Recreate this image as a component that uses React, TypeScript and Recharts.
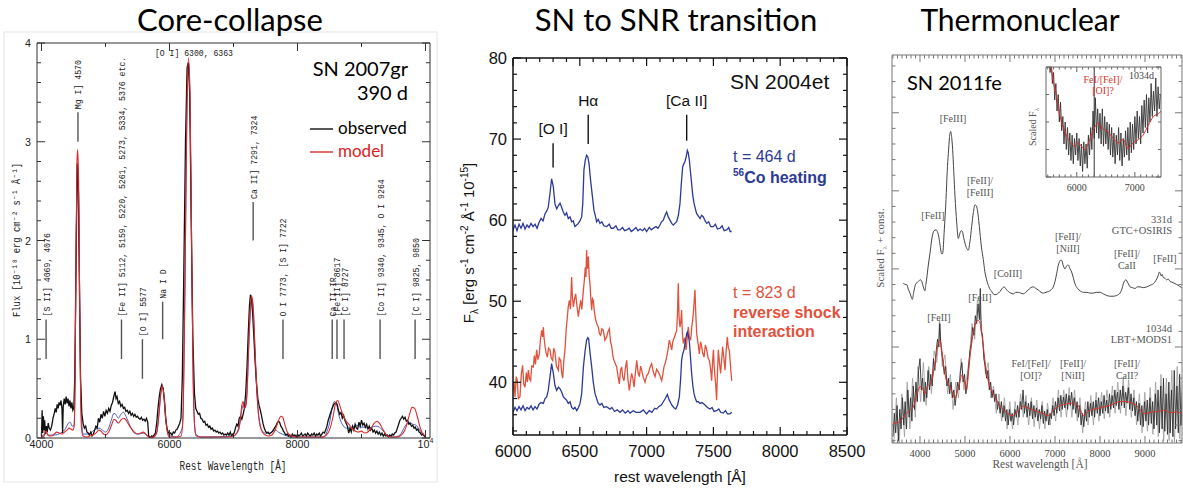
import React from "react";
import { LineChart, Line, XAxis, YAxis, ReferenceLine } from "recharts";

type Pt = [number, number];
const rows = (pts: Pt[]) => pts.map(([x, y]) => ({ x, y }));
const range = (a: number, b: number, step: number) => {
  const out: number[] = [];
  for (let i = 0; a + i * step <= b + 1e-9; i++) out.push(+(a + i * step).toFixed(4));
  return out;
};

const SANS = "'Liberation Sans', Arial, sans-serif";
const MONO = "'Liberation Mono', 'DejaVu Sans Mono', monospace";
const SERIF = "'Liberation Serif', serif";
const TITLE = "Lato, 'Open Sans', sans-serif";

// ---------- Core-collapse: SN 2007gr at 390 d ----------
const ccObserved: Pt[] = [
  [4000, 0.02], [4010, 0.28], [4020, 0.05], [4030, 0.22], [4040, 0.08], [4050, 0.18], [4060, 0.04], [4075, 0.12],
  [4090, 0.06], [4105, 0.15], [4120, 0.1], [4140, 0.08], [4160, 0.12], [4180, 0.2], [4200, 0.25], [4215, 0.3],
  [4230, 0.26], [4245, 0.34], [4260, 0.3], [4275, 0.36], [4290, 0.33], [4305, 0.38], [4320, 0.3], [4330, 0.05],
  [4340, 0.32], [4355, 0.4], [4370, 0.34], [4385, 0.42], [4400, 0.35], [4415, 0.4], [4430, 0.32], [4445, 0.38],
  [4460, 0.3], [4475, 0.36], [4490, 0.28], [4505, 0.3], [4520, 0.6], [4540, 1.8], [4560, 2.78], [4575, 2.6],
  [4590, 1.7], [4610, 0.6], [4630, 0.25], [4650, 0.15], [4670, 0.1], [4690, 0.12], [4710, 0.06], [4730, 0.05],
  [4750, 0.03], [4770, 0.06], [4790, 0.02], [4810, 0.04], [4830, 0.08], [4850, 0.12], [4870, 0.1], [4890, 0.2],
  [4910, 0.16], [4930, 0.24], [4950, 0.2], [4970, 0.27], [4990, 0.22], [5010, 0.28], [5030, 0.25], [5050, 0.3],
  [5070, 0.27], [5090, 0.33], [5110, 0.36], [5130, 0.42], [5150, 0.47], [5165, 0.4], [5180, 0.42], [5200, 0.35],
  [5220, 0.37], [5240, 0.32], [5260, 0.34], [5280, 0.3], [5300, 0.31], [5320, 0.27], [5340, 0.28], [5360, 0.25],
  [5380, 0.27], [5400, 0.23], [5420, 0.25], [5440, 0.22], [5460, 0.24], [5480, 0.21], [5500, 0.22], [5520, 0.2],
  [5540, 0.19], [5560, 0.21], [5580, 0.18], [5600, 0.19], [5620, 0.17], [5640, 0.2], [5660, 0.16], [5675, 0.02],
  [5700, 0.0], [5720, 0.02], [5740, 0.01], [5760, 0.03], [5780, 0.05], [5800, 0.15], [5820, 0.3], [5840, 0.42],
  [5860, 0.5], [5880, 0.54], [5900, 0.5], [5920, 0.38], [5940, 0.2], [5960, 0.1], [5980, 0.06], [6000, 0.04],
  [6020, 0.05], [6040, 0.03], [6060, 0.06], [6080, 0.05], [6100, 0.08], [6120, 0.09], [6140, 0.12], [6160, 0.15],
  [6180, 0.2], [6200, 0.6], [6220, 1.5], [6250, 3.0], [6275, 3.75], [6295, 3.8], [6315, 3.5], [6340, 2.2],
  [6365, 1.0], [6390, 0.45], [6410, 0.3], [6430, 0.27], [6450, 0.24], [6470, 0.25], [6490, 0.2], [6510, 0.19],
  [6530, 0.16], [6550, 0.17], [6570, 0.13], [6590, 0.14], [6610, 0.11], [6630, 0.12], [6650, 0.09], [6670, 0.1],
  [6690, 0.07], [6710, 0.08], [6730, 0.06], [6750, 0.07], [6770, 0.05], [6790, 0.06], [6810, 0.04], [6830, 0.05],
  [6850, 0.03], [6870, 0.04], [6890, 0.03], [6910, 0.05], [6930, 0.03], [6950, 0.06], [6970, 0.02], [6990, 0.04],
  [7010, 0.05], [7030, 0.1], [7050, 0.14], [7070, 0.12], [7090, 0.2], [7110, 0.22], [7130, 0.19], [7150, 0.24],
  [7170, 0.3], [7190, 0.45], [7210, 0.7], [7230, 1.05], [7250, 1.35], [7265, 1.45], [7280, 1.42], [7300, 1.25],
  [7320, 1.0], [7340, 0.75], [7360, 0.55], [7380, 0.4], [7400, 0.33], [7420, 0.28], [7440, 0.22], [7460, 0.15],
  [7480, 0.1], [7500, 0.07], [7520, 0.05], [7540, 0.06], [7560, 0.04], [7580, 0.05], [7600, 0.06], [7620, 0.08],
  [7640, 0.1], [7660, 0.12], [7680, 0.15], [7700, 0.17], [7720, 0.16], [7740, 0.12], [7760, 0.1], [7780, 0.07],
  [7800, 0.05], [7820, 0.03], [7840, 0.04], [7860, 0.02], [7880, 0.03], [7900, 0.01], [7920, 0.04], [7940, 0.02],
  [7960, 0.03], [7980, 0.01], [8000, 0.04], [8020, 0.02], [8040, 0.03], [8060, 0.05], [8080, 0.02], [8100, 0.03],
  [8120, 0.04], [8140, 0.02], [8160, 0.05], [8180, 0.03], [8200, 0.02], [8220, 0.04], [8240, 0.03], [8260, 0.05],
  [8280, 0.02], [8300, 0.04], [8320, 0.03], [8340, 0.05], [8360, 0.02], [8380, 0.04], [8400, 0.06], [8420, 0.05],
  [8440, 0.08], [8460, 0.12], [8480, 0.18], [8500, 0.22], [8520, 0.26], [8540, 0.3], [8560, 0.33], [8580, 0.35],
  [8600, 0.36], [8620, 0.34], [8640, 0.28], [8660, 0.24], [8680, 0.26], [8700, 0.2], [8720, 0.23], [8740, 0.18],
  [8760, 0.15], [8780, 0.12], [8800, 0.05], [8820, 0.1], [8840, 0.06], [8860, 0.12], [8880, 0.08], [8900, 0.14],
  [8920, 0.1], [8940, 0.09], [8960, 0.16], [8980, 0.12], [9000, 0.18], [9020, 0.13], [9040, 0.15], [9060, 0.11],
  [9080, 0.14], [9100, 0.09], [9120, 0.12], [9140, 0.08], [9160, 0.1], [9180, 0.06], [9200, 0.08], [9220, 0.05],
  [9240, 0.07], [9260, 0.04], [9280, 0.06], [9300, 0.03], [9320, 0.05], [9340, 0.02], [9360, 0.04], [9380, 0.02],
  [9400, 0.03], [9420, 0.01], [9440, 0.03], [9460, 0.02], [9480, 0.04], [9500, 0.03], [9520, 0.05], [9540, 0.06],
  [9560, 0.1], [9580, 0.14], [9600, 0.18], [9620, 0.2], [9640, 0.22], [9660, 0.19], [9680, 0.21], [9700, 0.17],
  [9720, 0.18], [9740, 0.14], [9760, 0.15], [9780, 0.12], [9800, 0.13], [9820, 0.1], [9840, 0.11], [9860, 0.08],
  [9880, 0.09], [9900, 0.06], [9920, 0.05], [9940, 0.03], [9960, 0.04], [9980, 0.02], [10000, 0.01],
];

const ccModel: Pt[] = [
  [4000, 0.01], [4040, 0.02], [4060, 0.06], [4075, 0.07], [4090, 0.04], [4120, 0.02], [4160, 0.02], [4200, 0.04],
  [4240, 0.06], [4280, 0.05], [4320, 0.04], [4360, 0.06], [4400, 0.08], [4430, 0.1], [4460, 0.09], [4490, 0.08],
  [4510, 0.12], [4525, 0.6], [4540, 1.9], [4555, 2.8], [4565, 2.92], [4580, 2.6], [4595, 1.5], [4610, 0.5],
  [4625, 0.1], [4650, 0.02], [4700, 0.01], [4750, 0.02], [4800, 0.03], [4850, 0.05], [4900, 0.08], [4930, 0.07],
  [4970, 0.04], [5000, 0.03], [5050, 0.06], [5100, 0.14], [5130, 0.19], [5160, 0.18], [5200, 0.15], [5240, 0.18],
  [5280, 0.2], [5310, 0.19], [5350, 0.15], [5400, 0.1], [5450, 0.06], [5500, 0.04], [5550, 0.05], [5590, 0.06],
  [5630, 0.04], [5680, 0.01], [5750, 0.01], [5800, 0.05], [5830, 0.2], [5860, 0.42], [5885, 0.53], [5910, 0.45],
  [5940, 0.2], [5970, 0.05], [6000, 0.01], [6100, 0.01], [6180, 0.02], [6210, 0.2], [6240, 1.5], [6270, 3.2],
  [6295, 3.85], [6320, 3.5], [6345, 2.0], [6370, 0.6], [6395, 0.1], [6420, 0.02], [6500, 0.01], [6700, 0.01],
  [6900, 0.01], [7000, 0.02], [7050, 0.05], [7100, 0.15], [7130, 0.33], [7150, 0.37], [7170, 0.3], [7200, 0.35],
  [7230, 0.8], [7260, 1.3], [7280, 1.44], [7300, 1.38], [7330, 1.0], [7360, 0.55], [7390, 0.25], [7420, 0.12],
  [7450, 0.06], [7500, 0.03], [7550, 0.02], [7600, 0.03], [7650, 0.08], [7700, 0.17], [7740, 0.22], [7770, 0.21],
  [7800, 0.14], [7840, 0.06], [7900, 0.02], [8000, 0.01], [8200, 0.01], [8400, 0.01], [8450, 0.03], [8500, 0.08],
  [8550, 0.2], [8600, 0.36], [8630, 0.38], [8660, 0.33], [8700, 0.25], [8750, 0.18], [8800, 0.14], [8850, 0.1],
  [8900, 0.07], [8950, 0.06], [9000, 0.07], [9050, 0.05], [9100, 0.06], [9150, 0.1], [9200, 0.15], [9240, 0.17],
  [9280, 0.15], [9330, 0.09], [9380, 0.04], [9450, 0.01], [9550, 0.01], [9650, 0.05], [9700, 0.12], [9750, 0.24],
  [9790, 0.31], [9830, 0.3], [9870, 0.22], [9910, 0.12], [9950, 0.05], [10000, 0.02],
];

const ccModelAlt: Pt[] = [
  [4000, 0.01], [4060, 0.05], [4075, 0.06], [4100, 0.03], [4200, 0.03], [4300, 0.05], [4380, 0.1], [4420, 0.15],
  [4450, 0.16], [4480, 0.12], [4510, 0.13], [4525, 0.6], [4540, 1.85], [4560, 2.78], [4580, 2.5], [4600, 1.2],
  [4620, 0.3], [4650, 0.04], [4750, 0.04], [4800, 0.07], [4850, 0.09], [4900, 0.1], [4950, 0.08], [5000, 0.06],
  [5050, 0.1], [5100, 0.2], [5130, 0.25], [5160, 0.24], [5200, 0.2], [5240, 0.24], [5280, 0.26], [5320, 0.22],
  [5360, 0.16], [5400, 0.1], [5450, 0.05], [5500, 0.04], [5600, 0.05], [5680, 0.01], [5800, 0.06], [5840, 0.28],
  [5870, 0.48], [5890, 0.52], [5920, 0.4], [5950, 0.15], [5990, 0.03], [6100, 0.01], [6200, 0.1], [6240, 1.4],
  [6270, 3.2], [6295, 3.8], [6320, 3.4], [6350, 1.6], [6380, 0.3], [6410, 0.04], [6500, 0.01], [7000, 0.02],
  [7080, 0.08], [7120, 0.25], [7150, 0.33], [7180, 0.3], [7210, 0.45], [7250, 1.1], [7285, 1.4], [7310, 1.3],
  [7340, 0.8], [7370, 0.4], [7400, 0.18], [7440, 0.08], [7500, 0.05], [7560, 0.05], [7620, 0.07], [7660, 0.08],
  [7700, 0.06], [7760, 0.04], [7800, 0.03], [7900, 0.01], [8400, 0.01], [8450, 0.05], [8500, 0.15], [8540, 0.3],
  [8575, 0.37], [8610, 0.34], [8650, 0.22], [8700, 0.14], [8760, 0.1], [8820, 0.1], [8880, 0.12], [8930, 0.13],
  [8980, 0.11], [9040, 0.11], [9100, 0.1], [9160, 0.11], [9220, 0.12], [9280, 0.11], [9340, 0.07], [9400, 0.03],
  [9500, 0.01], [9600, 0.03], [9680, 0.12], [9740, 0.16], [9800, 0.14], [9850, 0.13], [9900, 0.09], [9950, 0.04],
  [10000, 0.01],
];

const ccLines = [
  { label: "[S II] 4069, 4076", wl: 4072, y0: 0.8, y1: 1.2 },
  { label: "Mg I] 4570", wl: 4570, y0: 3.0, y1: 3.3 },
  { label: "[Fe II] 5112, 5159, 5220, 5261, 5273, 5334, 5376 etc.", wl: 5250, y0: 0.8, y1: 1.2 },
  { label: "[O I] 5577", wl: 5577, y0: 0.6, y1: 1.0 },
  { label: "Na I D", wl: 5893, y0: 1.0, y1: 1.38 },
  { label: "Ca II] 7291, 7324", wl: 7307, y0: 2.0, y1: 2.39 },
  { label: "O I 7773, [S I] 7722", wl: 7773, y0: 0.8, y1: 1.2 },
  { label: "Ca II IR", wl: 8542, y0: 0.8, y1: 1.2 },
  { label: "[Fe II] 8617", wl: 8617, y0: 0.8, y1: 1.2 },
  { label: "[C I] 8727", wl: 8727, y0: 0.8, y1: 1.2 },
  { label: "[Co II] 9340, 9345, O I 9264", wl: 9290, y0: 0.8, y1: 1.2 },
  { label: "[C I] 9825, 9850", wl: 9837, y0: 0.8, y1: 1.2 },
];
const ccXTicks = range(4000, 10000, 1000);
const ccYTicks = range(0, 4, 0.2);

// ---------- SN 2004et ----------
const et464: Pt[] = [
  [6000, 58.8], [6015, 59.4], [6030, 58.7], [6045, 59.5], [6060, 59.0], [6075, 59.6], [6090, 58.9], [6105, 59.4],
  [6120, 59.1], [6135, 59.6], [6150, 59.2], [6165, 59.5], [6180, 59.0], [6195, 59.7], [6210, 60.2], [6225, 59.9],
  [6240, 60.8], [6252, 61.1], [6264, 61.6], [6276, 63.2], [6289, 65.1], [6302, 64.1], [6314, 62.0], [6327, 61.4],
  [6340, 61.8], [6352, 62.1], [6364, 61.6], [6376, 61.0], [6389, 60.6], [6401, 60.9], [6414, 60.2], [6427, 60.4],
  [6439, 59.8], [6451, 59.9], [6464, 59.2], [6476, 59.4], [6489, 59.6], [6501, 59.9], [6514, 60.4], [6522, 62.0],
  [6531, 66.2], [6541, 67.4], [6551, 68.0], [6560, 67.8], [6569, 67.0], [6579, 65.2], [6589, 63.7], [6598, 62.4],
  [6606, 61.2], [6616, 60.6], [6626, 59.8], [6638, 60.1], [6651, 59.6], [6665, 59.8], [6680, 59.3], [6701, 59.2],
  [6720, 59.5], [6735, 59.0], [6751, 59.0], [6770, 59.3], [6785, 58.8], [6801, 58.8], [6820, 59.1], [6835, 58.7],
  [6851, 58.8], [6870, 59.0], [6885, 58.6], [6901, 58.8], [6920, 59.1], [6935, 58.7], [6951, 58.9], [6970, 58.7],
  [6985, 59.0], [7000, 58.6], [7020, 59.1], [7035, 58.8], [7050, 59.0], [7070, 59.2], [7085, 59.0], [7100, 59.4],
  [7112, 59.8], [7125, 60.0], [7138, 60.6], [7150, 61.0], [7162, 60.4], [7175, 60.0], [7188, 59.6], [7200, 59.4],
  [7212, 59.6], [7225, 59.8], [7238, 60.6], [7250, 62.1], [7260, 64.5], [7270, 66.6], [7280, 67.0], [7287, 67.2],
  [7296, 67.8], [7305, 68.6], [7312, 68.3], [7320, 67.4], [7328, 66.0], [7337, 64.5], [7346, 63.0], [7355, 62.1],
  [7365, 61.4], [7375, 60.8], [7388, 60.5], [7400, 60.2], [7412, 60.6], [7425, 60.4], [7438, 59.9], [7450, 59.6],
  [7465, 59.8], [7480, 59.2], [7500, 59.2], [7515, 59.5], [7530, 58.9], [7550, 59.0], [7565, 59.3], [7580, 58.7],
  [7599, 58.8], [7615, 59.1], [7625, 58.6], [7637, 58.6],
];

const et464Low: Pt[] = [
  [6000, 36.3], [6015, 36.9], [6030, 36.5], [6045, 37.0], [6060, 36.6], [6075, 37.1], [6090, 36.5], [6105, 36.9],
  [6120, 36.7], [6135, 37.1], [6150, 36.6], [6165, 37.0], [6180, 36.7], [6195, 37.3], [6210, 37.5], [6227, 37.4],
  [6240, 38.0], [6252, 38.2], [6264, 39.0], [6277, 40.7], [6289, 42.3], [6302, 41.1], [6314, 39.6], [6327, 39.0],
  [6340, 39.4], [6352, 39.2], [6364, 38.8], [6377, 38.2], [6389, 38.0], [6401, 37.8], [6414, 37.4], [6427, 37.6],
  [6439, 36.9], [6452, 36.7], [6464, 36.9], [6477, 36.5], [6490, 36.9], [6502, 37.4], [6514, 38.6], [6527, 41.9],
  [6539, 43.8], [6551, 45.2], [6560, 45.5], [6566, 45.4], [6577, 43.6], [6589, 41.9], [6601, 40.0], [6614, 38.6],
  [6626, 38.0], [6638, 37.4], [6651, 37.2], [6665, 37.4], [6680, 36.9], [6700, 37.0], [6726, 36.7], [6740, 36.9],
  [6760, 36.4], [6780, 36.6], [6801, 36.3], [6820, 36.6], [6840, 36.2], [6860, 36.5], [6876, 36.2], [6900, 36.5],
  [6920, 36.3], [6951, 36.3], [6975, 36.6], [7000, 36.1], [7020, 36.5], [7040, 36.3], [7060, 36.8], [7075, 36.7],
  [7090, 37.0], [7110, 37.2], [7125, 37.6], [7140, 38.0], [7155, 38.5], [7170, 37.8], [7188, 37.2], [7203, 36.9],
  [7218, 36.7], [7232, 37.2], [7245, 38.2], [7255, 40.5], [7262, 42.7], [7270, 43.5], [7280, 44.0], [7290, 45.0],
  [7300, 46.0], [7305, 46.2], [7312, 45.8], [7320, 45.0], [7328, 43.2], [7337, 41.1], [7346, 39.6], [7355, 38.6],
  [7365, 38.0], [7375, 37.6], [7388, 37.6], [7400, 37.4], [7415, 37.5], [7437, 37.2], [7455, 36.9], [7475, 36.7],
  [7490, 36.9], [7505, 36.4], [7524, 36.5], [7540, 36.7], [7555, 36.3], [7574, 36.2], [7590, 36.5], [7605, 36.1],
  [7624, 36.1], [7637, 36.3],
];

const et823: Pt[] = [
  [6000, 39.0], [6008, 40.0], [6015, 38.2], [6024, 40.7], [6032, 40.2], [6040, 38.0], [6052, 38.2], [6062, 41.0],
  [6072, 42.1], [6080, 39.8], [6090, 39.4], [6100, 41.2], [6108, 40.0], [6115, 41.5], [6124, 40.4], [6132, 40.2],
  [6140, 42.0], [6152, 41.9], [6160, 43.3], [6168, 42.2], [6177, 44.0], [6186, 42.8], [6197, 43.5], [6205, 45.2],
  [6215, 46.4], [6222, 45.6], [6227, 46.8], [6233, 45.4], [6240, 44.4], [6248, 43.6], [6257, 43.1], [6266, 44.2],
  [6277, 44.0], [6286, 43.0], [6297, 42.7], [6305, 44.2], [6314, 43.7], [6325, 42.0], [6339, 41.5], [6346, 43.0],
  [6357, 42.7], [6364, 41.2], [6372, 40.5], [6380, 42.6], [6389, 44.0], [6398, 46.5], [6407, 48.1], [6414, 49.4],
  [6422, 50.1], [6430, 49.0], [6439, 53.0], [6445, 50.4], [6452, 49.3], [6460, 50.2], [6469, 50.9], [6478, 49.5],
  [6489, 48.1], [6498, 49.2], [6507, 50.1], [6515, 49.0], [6527, 51.4], [6534, 52.6], [6541, 54.2], [6546, 53.0],
  [6551, 56.3], [6557, 54.0], [6564, 55.5], [6570, 53.2], [6576, 52.2], [6582, 50.5], [6589, 48.9], [6595, 50.3],
  [6601, 50.1], [6610, 48.6], [6619, 47.7], [6628, 47.2], [6639, 46.8], [6647, 46.0], [6656, 45.8], [6665, 46.6],
  [6676, 46.4], [6688, 45.2], [6701, 45.6], [6710, 46.2], [6721, 46.6], [6730, 45.0], [6739, 44.4], [6748, 43.2],
  [6756, 42.7], [6766, 42.3], [6776, 41.9], [6786, 40.8], [6796, 39.8], [6805, 41.5], [6813, 41.9], [6822, 40.6],
  [6831, 40.2], [6840, 41.6], [6851, 42.7], [6860, 40.4], [6871, 39.0], [6880, 40.2], [6888, 41.1], [6897, 40.5],
  [6906, 39.4], [6915, 41.0], [6926, 42.7], [6936, 41.2], [6946, 40.7], [6955, 42.0], [6963, 41.5], [6975, 40.6],
  [6988, 40.0], [7000, 40.8], [7013, 41.1], [7025, 41.8], [7038, 42.3], [7050, 41.3], [7063, 40.7], [7075, 41.6],
  [7088, 41.3], [7100, 40.8], [7113, 40.2], [7122, 41.0], [7130, 41.9], [7140, 42.4], [7150, 43.1], [7160, 44.0],
  [7170, 45.2], [7180, 44.6], [7188, 44.0], [7196, 45.0], [7205, 45.4], [7215, 45.9], [7225, 46.4], [7231, 48.5],
  [7237, 52.2], [7243, 48.0], [7250, 46.8], [7256, 47.5], [7262, 48.9], [7268, 46.0], [7275, 44.8], [7285, 45.5],
  [7295, 44.0], [7303, 45.3], [7312, 46.8], [7320, 45.6], [7330, 45.2], [7338, 46.8], [7345, 47.7], [7352, 49.0],
  [7362, 51.4], [7368, 48.5], [7375, 46.0], [7385, 44.8], [7395, 43.5], [7404, 45.0], [7412, 44.4], [7420, 43.6],
  [7430, 43.1], [7440, 44.6], [7450, 44.0], [7460, 43.0], [7470, 42.7], [7480, 41.5], [7487, 40.2], [7494, 42.5],
  [7500, 44.0], [7506, 42.0], [7512, 40.7], [7518, 39.5], [7524, 37.8], [7530, 41.0], [7537, 44.0], [7545, 42.5],
  [7554, 41.1], [7562, 42.8], [7569, 44.4], [7578, 43.0], [7587, 41.5], [7595, 43.8], [7604, 45.6], [7612, 44.2],
  [7619, 44.0], [7628, 42.0], [7637, 40.2],
];

const etLines = [
  { label: "[O I]", wl: 6300, y0: 66.5, y1: 69.5 },
  { label: "Hα", wl: 6563, y0: 69.4, y1: 73.0 },
  { label: "[Ca II]", wl: 7300, y0: 69.8, y1: 73.0 },
];
const etXTicks = range(6000, 8500, 100);
const etYTicks = range(34, 80, 2);

// ---------- SN 2011fe ----------
const fe331: Pt[] = [
  [3630, 2.82], [3670, 2.8], [3704, 2.8], [3740, 2.74], [3778, 2.69], [3805, 2.64], [3830, 2.61], [3860, 2.7],
  [3889, 2.78], [3925, 2.82], [3963, 2.84], [4015, 2.86], [4045, 2.83], [4074, 2.77], [4111, 2.72], [4130, 2.8],
  [4148, 2.87], [4185, 3.05], [4222, 3.2], [4259, 3.37], [4290, 3.46], [4311, 3.49], [4356, 3.5], [4385, 3.48],
  [4407, 3.44], [4435, 3.35], [4459, 3.25], [4485, 3.19], [4504, 3.2], [4540, 3.5], [4578, 3.89], [4605, 4.25],
  [4630, 4.48], [4655, 4.68], [4682, 4.76], [4705, 4.68], [4726, 4.53], [4750, 4.25], [4778, 3.93], [4815, 3.6],
  [4852, 3.39], [4870, 3.42], [4889, 3.46], [4915, 3.49], [4941, 3.48], [4970, 3.4], [5000, 3.33], [5040, 3.26],
  [5074, 3.24], [5110, 3.35], [5148, 3.54], [5185, 3.72], [5222, 3.82], [5250, 3.81], [5274, 3.76], [5305, 3.62],
  [5333, 3.46], [5365, 3.28], [5407, 3.12], [5440, 2.97], [5481, 2.86], [5530, 2.77], [5593, 2.71], [5630, 2.68],
  [5667, 2.67], [5720, 2.68], [5778, 2.71], [5825, 2.75], [5867, 2.77], [5915, 2.74], [5963, 2.71], [6020, 2.69],
  [6074, 2.68], [6130, 2.7], [6185, 2.7], [6240, 2.69], [6296, 2.68], [6350, 2.7], [6407, 2.73], [6460, 2.76],
  [6519, 2.77], [6575, 2.75], [6630, 2.73], [6690, 2.7], [6741, 2.69], [6800, 2.7], [6852, 2.71], [6910, 2.73],
  [6963, 2.77], [7000, 2.84], [7037, 2.94], [7070, 3.04], [7096, 3.09], [7122, 3.11], [7148, 3.11], [7185, 3.04],
  [7222, 3.0], [7260, 3.04], [7296, 3.05], [7335, 3.0], [7370, 2.96], [7410, 2.88], [7444, 2.81], [7500, 2.75],
  [7556, 2.72], [7630, 2.7], [7704, 2.7], [7780, 2.69], [7852, 2.69], [7925, 2.7], [8000, 2.7], [8075, 2.68],
  [8148, 2.66], [8220, 2.65], [8296, 2.65], [8370, 2.66], [8444, 2.69], [8485, 2.74], [8519, 2.81], [8550, 2.85],
  [8578, 2.86], [8620, 2.82], [8667, 2.77], [8720, 2.76], [8778, 2.75], [8830, 2.77], [8889, 2.77], [8960, 2.76],
  [9037, 2.77], [9110, 2.79], [9185, 2.81], [9240, 2.85], [9296, 2.92], [9320, 2.96], [9333, 2.95], [9360, 2.91],
  [9380, 2.93], [9407, 2.89], [9440, 2.88], [9480, 2.86], [9515, 2.87], [9556, 2.84], [9600, 2.83], [9640, 2.82],
  [9704, 2.8], [9760, 2.78], [9815, 2.76],
];

const fe1034: Pt[] = [
  [3400, 0.85], [3430, 1.15], [3460, 0.9], [3490, 1.25], [3520, 0.8], [3550, 1.2], [3580, 0.95], [3610, 1.35],
  [3640, 1.0], [3670, 1.3], [3700, 0.95], [3730, 1.45], [3760, 1.1], [3790, 1.35], [3820, 1.05], [3850, 1.5],
  [3880, 1.2], [3910, 1.55], [3940, 1.3], [3970, 1.7], [4000, 1.85], [4030, 1.45], [4060, 1.6], [4090, 1.3],
  [4120, 1.55], [4150, 1.35], [4180, 1.7], [4210, 1.45], [4240, 1.65], [4270, 1.5], [4300, 1.85], [4330, 1.7],
  [4360, 1.95], [4390, 2.1], [4420, 2.0], [4440, 2.3], [4460, 2.05], [4480, 1.95], [4510, 1.8], [4540, 1.65],
  [4570, 1.75], [4600, 1.5], [4630, 1.6], [4660, 1.4], [4690, 1.55], [4720, 1.35], [4750, 1.45], [4780, 1.25],
  [4810, 1.4], [4840, 1.55], [4870, 1.45], [4900, 1.7], [4930, 1.8], [4960, 1.55], [4990, 1.65], [5020, 1.4],
  [5050, 1.55], [5080, 1.75], [5110, 1.95], [5140, 2.05], [5170, 2.25], [5200, 2.15], [5230, 2.4], [5260, 2.3],
  [5290, 2.55], [5320, 2.35], [5340, 2.75], [5360, 2.2], [5390, 2.15], [5420, 1.85], [5450, 1.75], [5480, 1.6],
  [5510, 1.7], [5540, 1.45], [5570, 1.55], [5600, 1.35], [5630, 1.45], [5660, 1.3], [5690, 1.4], [5720, 1.2],
  [5750, 1.3], [5780, 1.15], [5810, 1.3], [5840, 1.1], [5870, 1.25], [5900, 1.05], [5930, 1.2], [5960, 1.0],
  [5990, 1.2], [6020, 1.05], [6050, 1.15], [6080, 1.0], [6110, 1.2], [6140, 1.1], [6170, 1.25], [6200, 1.1],
  [6230, 1.3], [6260, 1.2], [6290, 1.45], [6320, 1.15], [6350, 1.3], [6380, 1.1], [6410, 1.28], [6440, 1.12],
  [6470, 1.3], [6500, 1.08], [6530, 1.25], [6560, 1.1], [6590, 1.22], [6620, 1.05], [6650, 1.2], [6680, 1.08],
  [6710, 1.25], [6740, 1.02], [6770, 1.18], [6800, 1.05], [6830, 1.2], [6860, 1.0], [6890, 1.15], [6920, 1.08],
  [6950, 1.25], [6980, 1.12], [7010, 1.3], [7040, 1.15], [7070, 1.35], [7100, 1.18], [7130, 1.38], [7160, 1.2],
  [7190, 1.36], [7220, 1.22], [7250, 1.4], [7280, 1.2], [7310, 1.38], [7340, 1.25], [7370, 1.42], [7400, 1.2],
  [7430, 1.35], [7460, 1.15], [7490, 1.3], [7520, 1.1], [7550, 1.25], [7580, 1.0], [7610, 1.15], [7640, 0.98],
  [7670, 1.2], [7700, 1.05], [7730, 1.3], [7760, 1.1], [7790, 1.28], [7820, 1.12], [7850, 1.3], [7880, 1.1],
  [7910, 1.32], [7940, 1.15], [7970, 1.35], [8000, 1.12], [8030, 1.3], [8060, 1.15], [8090, 1.38], [8120, 1.18],
  [8150, 1.32], [8180, 1.15], [8210, 1.4], [8240, 1.2], [8270, 1.38], [8300, 1.22], [8330, 1.45], [8360, 1.25],
  [8390, 1.42], [8420, 1.2], [8450, 1.45], [8480, 1.25], [8510, 1.5], [8540, 1.22], [8570, 1.42], [8600, 1.28],
  [8630, 1.48], [8660, 1.2], [8690, 1.4], [8720, 1.18], [8750, 1.35], [8780, 1.12], [8810, 1.3], [8840, 1.05],
  [8870, 1.28], [8900, 1.0], [8930, 1.25], [8960, 0.98], [8990, 1.3], [9020, 1.05], [9050, 1.32], [9080, 1.0],
  [9110, 1.35], [9140, 1.02], [9170, 1.3], [9200, 0.95], [9230, 1.4], [9260, 1.0], [9290, 1.45], [9320, 0.9],
  [9350, 1.5], [9380, 0.95], [9410, 1.6], [9440, 0.92], [9470, 1.4], [9500, 0.88], [9530, 1.55], [9560, 0.9],
  [9590, 1.45], [9620, 0.85], [9650, 1.7], [9680, 0.95], [9710, 1.5], [9740, 0.9], [9770, 1.65], [9800, 1.0],
  [9830, 1.4],
];

// lighter, wider-scatter trace drawn under the 1034d spectrum
const fe1034Raw: Pt[] = [
  [3415, 0.7], [3475, 1.35], [3535, 0.75], [3595, 1.4], [3655, 0.85], [3715, 1.55], [3775, 0.95], [3835, 1.6],
  [3895, 1.1], [3955, 1.75], [4015, 1.3], [4075, 1.8], [4135, 1.25], [4195, 1.75], [4255, 1.4], [4315, 1.95],
  [4375, 1.8], [4435, 2.35], [4495, 1.75], [4555, 1.9], [4615, 1.4], [4675, 1.65], [4735, 1.2], [4795, 1.55],
  [4855, 1.35], [4915, 1.85], [4975, 1.45], [5035, 1.6], [5095, 1.85], [5155, 2.3], [5215, 2.1], [5275, 2.6],
  [5335, 2.5], [5395, 2.05], [5455, 1.65], [5515, 1.8], [5575, 1.35], [5635, 1.5], [5695, 1.15], [5755, 1.4],
  [5815, 1.05], [5875, 1.35], [5935, 0.95], [5995, 1.3], [6055, 0.95], [6115, 1.3], [6175, 1.0], [6235, 1.4],
  [6295, 1.1], [6355, 1.38], [6415, 1.0], [6475, 1.35], [6535, 0.98], [6595, 1.32], [6655, 0.95], [6715, 1.3],
  [6775, 0.95], [6835, 1.28], [6895, 1.0], [6955, 1.35], [7015, 1.05], [7075, 1.45], [7135, 1.1], [7195, 1.45],
  [7255, 1.1], [7315, 1.48], [7375, 1.1], [7435, 1.45], [7495, 1.05], [7555, 1.35], [7615, 0.9], [7675, 1.3],
  [7735, 1.0], [7795, 1.38], [7855, 1.0], [7915, 1.42], [7975, 1.05], [8035, 1.42], [8095, 1.08], [8155, 1.45],
  [8215, 1.1], [8275, 1.5], [8335, 1.15], [8395, 1.55], [8455, 1.15], [8515, 1.6], [8575, 1.12], [8635, 1.58],
  [8695, 1.1], [8755, 1.45], [8815, 1.0], [8875, 1.4], [8935, 0.9], [8995, 1.42], [9055, 0.92], [9115, 1.48],
  [9175, 0.88], [9235, 1.55], [9295, 0.85], [9355, 1.65], [9415, 0.8], [9475, 1.6], [9535, 0.8], [9595, 1.7],
  [9655, 0.78], [9715, 1.75], [9775, 0.82], [9830, 1.6],
];

const fe1034Smooth: Pt[] = [
  [3400, 1.02], [3480, 1.03], [3555, 1.04], [3630, 1.1], [3703, 1.15], [3780, 1.19], [3852, 1.23], [3910, 1.35],
  [3963, 1.45], [4000, 1.49], [4037, 1.49], [4075, 1.44], [4111, 1.4], [4150, 1.47], [4185, 1.51], [4222, 1.53],
  [4259, 1.55], [4296, 1.66], [4333, 1.79], [4370, 1.93], [4407, 2.05], [4444, 2.09], [4475, 2.0], [4503, 1.87],
  [4540, 1.72], [4577, 1.59], [4620, 1.53], [4666, 1.49], [4720, 1.41], [4777, 1.34], [4815, 1.4], [4851, 1.47],
  [4890, 1.56], [4925, 1.64], [4950, 1.63], [4977, 1.58], [5005, 1.5], [5037, 1.45], [5075, 1.65], [5111, 1.87],
  [5150, 2.05], [5185, 2.2], [5222, 2.28], [5259, 2.33], [5296, 2.34], [5333, 2.31], [5370, 2.18], [5407, 2.01],
  [5444, 1.82], [5481, 1.66], [5518, 1.56], [5555, 1.49], [5610, 1.42], [5666, 1.36], [5720, 1.3], [5777, 1.25],
  [5850, 1.2], [5925, 1.16], [6000, 1.13], [6074, 1.12], [6130, 1.15], [6185, 1.19], [6240, 1.22], [6296, 1.24],
  [6370, 1.23], [6444, 1.21], [6518, 1.19], [6592, 1.18], [6666, 1.16], [6740, 1.15], [6795, 1.13], [6851, 1.12],
  [6907, 1.15], [6963, 1.19], [7037, 1.22], [7111, 1.25], [7185, 1.26], [7259, 1.27], [7333, 1.28], [7407, 1.28],
  [7460, 1.27], [7518, 1.25], [7575, 1.18], [7629, 1.12], [7700, 1.15], [7777, 1.19], [7850, 1.2], [7925, 1.21],
  [8000, 1.22], [8073, 1.23], [8150, 1.24], [8222, 1.25], [8296, 1.27], [8370, 1.29], [8444, 1.3], [8518, 1.3],
  [8592, 1.3], [8666, 1.29], [8740, 1.27], [8814, 1.25], [8888, 1.2], [8962, 1.15], [9036, 1.15], [9110, 1.16],
  [9185, 1.17], [9259, 1.17], [9333, 1.18], [9407, 1.19], [9480, 1.18], [9555, 1.16], [9630, 1.16], [9703, 1.17],
  [9770, 1.16], [9836, 1.15],
];

const insetObs: Pt[] = [
  [5480, 1.2], [5500, 1.1], [5520, 1.15], [5540, 0.95], [5560, 1.05], [5580, 0.85], [5600, 0.95], [5620, 0.7],
  [5640, 0.85], [5660, 0.6], [5680, 0.75], [5700, 0.5], [5720, 0.68], [5740, 0.42], [5760, 0.55], [5780, 0.3],
  [5800, 0.5], [5820, 0.25], [5840, 0.45], [5860, 0.2], [5880, 0.4], [5900, 0.15], [5920, 0.38], [5940, 0.12],
  [5960, 0.35], [5980, 0.2], [6000, 0.4], [6020, 0.15], [6040, 0.35], [6060, 0.1], [6080, 0.3], [6100, 0.05],
  [6120, 0.32], [6140, 0.12], [6160, 0.3], [6180, 0.08], [6200, 0.38], [6220, 0.2], [6240, 0.45], [6260, 0.25],
  [6280, 0.6], [6300, 0.35], [6320, 0.72], [6340, 0.4], [6360, 0.62], [6380, 0.35], [6400, 0.58], [6420, 0.3],
  [6440, 0.62], [6460, 0.28], [6480, 0.55], [6500, 0.3], [6520, 0.5], [6540, 0.25], [6560, 0.48], [6580, 0.2],
  [6600, 0.45], [6620, 0.18], [6640, 0.4], [6660, 0.12], [6680, 0.38], [6700, 0.2], [6720, 0.45], [6740, 0.15],
  [6760, 0.4], [6780, 0.1], [6800, 0.35], [6820, 0.18], [6840, 0.42], [6860, 0.2], [6880, 0.45], [6900, 0.15],
  [6920, 0.5], [6940, 0.22], [6960, 0.48], [6980, 0.25], [7000, 0.55], [7020, 0.3], [7040, 0.6], [7060, 0.35],
  [7080, 0.55], [7100, 0.3], [7120, 0.65], [7140, 0.4], [7160, 0.7], [7180, 0.45], [7200, 0.75], [7220, 0.4],
  [7240, 0.72], [7260, 0.5], [7280, 0.85], [7300, 0.55], [7320, 0.78], [7340, 0.6], [7360, 0.9], [7380, 0.55],
  [7400, 0.82], [7420, 0.62], [7440, 0.75],
];

const insetSmooth: Pt[] = [
  [5480, 1.25], [5520, 1.12], [5560, 1.0], [5600, 0.86], [5650, 0.74], [5710, 0.56], [5790, 0.42], [5880, 0.32],
  [5970, 0.28], [6020, 0.31], [6080, 0.28], [6140, 0.25], [6200, 0.31], [6280, 0.42], [6370, 0.49], [6450, 0.44],
  [6540, 0.41], [6630, 0.35], [6710, 0.31], [6800, 0.34], [6880, 0.26], [6970, 0.31], [7060, 0.34], [7140, 0.38],
  [7230, 0.47], [7320, 0.55], [7420, 0.58], [7450, 0.6],
];

const feXTicks = range(3400, 9800, 100);
const feYTicks = range(0.8, 5.6, 0.2);
const insetXTicks = range(5500, 7400, 100);
const insetYTicks = range(0, 1, 0.25);

// ---------- tick + frame helpers ----------
type Side = "bottom" | "top" | "left" | "right";
type TickCfg = {
  every: number;
  major: number;
  minor: number;
  color: string;
  lw?: number;
  label?: (v: number) => React.ReactNode;
  dx?: number;
  dy?: number;
  anchor?: "start" | "middle" | "end";
  font?: { family: string; size: number; fill: string };
};

const makeTick = (side: Side, c: TickCfg, withLabel: boolean) => (p: any) => {
  const x: number = p.x;
  const y: number = p.y;
  const v: number = p.payload?.value;
  const r = v / c.every;
  const isMajor = Math.abs(r - Math.round(r)) < 1e-6;
  const len = isMajor ? c.major : c.minor;
  const d =
    side === "bottom" ? [0, -len] : side === "top" ? [0, len] : side === "left" ? [len, 0] : [-len, 0];
  return (
    <g>
      <line x1={x} y1={y} x2={x + d[0]} y2={y + d[1]} stroke={c.color} strokeWidth={c.lw ?? 1} />
      {withLabel && isMajor && c.label && c.font ? (
        <text
          x={x + (c.dx ?? 0)}
          y={y + (c.dy ?? 0)}
          textAnchor={c.anchor ?? "middle"}
          fontFamily={c.font.family}
          fontSize={c.font.size}
          fill={c.font.fill}
        >
          {c.label(v)}
        </text>
      ) : null}
    </g>
  );
};

// axes are 1px thick (CartesianAxis skips drawing when its size is 0)
function frame(o: {
  xDomain: [number, number];
  yDomain: [number, number];
  xTicks: number[];
  yTicks: number[];
  x: TickCfg;
  y: TickCfg;
  color: string;
  lw: number;
}) {
  const base = {
    type: "number" as const,
    allowDataOverflow: true,
    tickLine: false,
    interval: 0 as const,
    tickSize: 0,
    tickMargin: 0,
    axisLine: { stroke: o.color, strokeWidth: o.lw },
  };
  return [
    <XAxis key="xb" dataKey="x" height={1} domain={o.xDomain} ticks={o.xTicks} {...base} tick={makeTick("bottom", o.x, true)} />,
    <XAxis key="xt" xAxisId="t" orientation="top" dataKey="x" height={1} domain={o.xDomain} ticks={o.xTicks} {...base} tick={makeTick("top", o.x, false)} />,
    <YAxis key="yl" width={1} domain={o.yDomain} ticks={o.yTicks} {...base} tick={makeTick("left", o.y, true)} />,
    <YAxis key="yr" yAxisId="r" orientation="right" width={1} domain={o.yDomain} ticks={o.yTicks} {...base} tick={makeTick("right", o.y, false)} />,
  ];
}

const rotLabel = (text: string) => (p: any) => {
  const vb = p.viewBox || { x: 0, y: 0 };
  return (
    <text
      transform={`translate(${vb.x + 3.5},${vb.y - 3}) rotate(-90)`}
      fontFamily={MONO}
      fontSize={9.5}
      fill="#222"
      textLength={text.length * 4.9}
      lengthAdjust="spacingAndGlyphs"
    >
      {text}
    </text>
  );
};

const topLabel = (text: string) => (p: any) => {
  const vb = p.viewBox || { x: 0, y: 0 };
  return (
    <text x={vb.x} y={vb.y - 9} textAnchor="middle" fontFamily={SANS} fontSize={15.5} fill="#111">
      {text}
    </text>
  );
};

const BLUE = "#2c3a96";
const RED2 = "#e2513c";

export default function App() {
  return (
    <div style={{ position: "absolute", left: 0, top: 0, width: 1183, height: 490, background: "#fff", overflow: "hidden" }}>
      {/* Panel 1: core collapse */}
      <div style={{ position: "absolute", left: 0, top: 0 }}>
        <LineChart width={440} height={490} margin={{ top: 42, right: 9, bottom: 51, left: 36 }}>
          {frame({
            xDomain: [3930, 10070],
            yDomain: [0, 4],
            xTicks: ccXTicks,
            yTicks: ccYTicks,
            color: "#333",
            lw: 1,
            x: {
              every: 2000, major: 8, minor: 4, color: "#333", dy: 10,
              font: { family: SANS, size: 10.7, fill: "#222" },
              label: (v) => (v === 10000 ? (<><tspan>10</tspan><tspan dy={-5} fontSize={7}>4</tspan></>) : String(v)),
            },
            y: {
              every: 1, major: 8, minor: 4, color: "#333", dx: -6, dy: 4, anchor: "end",
              font: { family: SANS, size: 10.7, fill: "#222" },
              label: (v) => String(v),
            },
          })}
          {ccLines.map((l) => (
            <ReferenceLine
              key={l.label}
              segment={[{ x: l.wl, y: l.y0 }, { x: l.wl, y: l.y1 }]}
              stroke="#555"
              strokeWidth={1.4}
              label={rotLabel(l.label)}
            />
          ))}
          <Line data={rows(ccModelAlt)} dataKey="y" stroke="#4d5fc4" strokeWidth={1} dot={false} type="monotone" isAnimationActive={false} />
          <Line data={rows(ccObserved)} dataKey="y" stroke="#111" strokeWidth={1.3} dot={false} type="linear" isAnimationActive={false} />
          <Line data={rows(ccModel)} dataKey="y" stroke="#d92b2b" strokeWidth={1.1} dot={false} type="monotone" isAnimationActive={false} />
        </LineChart>
      </div>

      {/* Panel 2: SN to SNR transition */}
      <div style={{ position: "absolute", left: 440, top: 0 }}>
        <LineChart width={445} height={490} margin={{ top: 57, right: 37, bottom: 54, left: 72 }}>
          {frame({
            xDomain: [6000, 8500],
            yDomain: [33.5, 80],
            xTicks: etXTicks,
            yTicks: etYTicks,
            color: "#111",
            lw: 1.5,
            x: {
              every: 500, major: 8, minor: 4, color: "#111", lw: 1.2, dy: 22,
              font: { family: SANS, size: 16.5, fill: "#111" },
              label: (v) => String(v),
            },
            y: {
              every: 10, major: 8, minor: 4, color: "#111", lw: 1.2, dx: -6, dy: 6, anchor: "end",
              font: { family: SANS, size: 16.5, fill: "#111" },
              label: (v) => String(v),
            },
          })}
          {etLines.map((l) => (
            <ReferenceLine
              key={l.label}
              segment={[{ x: l.wl, y: l.y0 }, { x: l.wl, y: l.y1 }]}
              stroke="#111"
              strokeWidth={1.4}
              label={topLabel(l.label)}
            />
          ))}
          <Line data={rows(et823)} dataKey="y" stroke={RED2} strokeWidth={1.3} dot={false} type="linear" isAnimationActive={false} />
          <Line data={rows(et464Low)} dataKey="y" stroke={BLUE} strokeWidth={1.3} dot={false} type="linear" isAnimationActive={false} />
          <Line data={rows(et464)} dataKey="y" stroke={BLUE} strokeWidth={1.3} dot={false} type="linear" isAnimationActive={false} />
        </LineChart>
      </div>

      {/* Panel 3: thermonuclear */}
      <div style={{ position: "absolute", left: 860, top: 0 }}>
        <LineChart width={323} height={490} margin={{ top: 54, right: 0, bottom: 46, left: 31 }}>
          {frame({
            xDomain: [3378, 9822],
            yDomain: [0.77, 5.74],
            xTicks: feXTicks,
            yTicks: feYTicks,
            color: "#777",
            lw: 1,
            x: {
              every: 1000, major: 7, minor: 3.5, color: "#777", dy: 14,
              font: { family: SERIF, size: 10.5, fill: "#444" },
              label: (v) => String(v),
            },
            y: { every: 1, major: 7, minor: 3.5, color: "#777" },
          })}
          <Line data={rows(fe331)} dataKey="y" stroke="#444" strokeWidth={1} dot={false} type="monotone" isAnimationActive={false} />
          <Line data={rows(fe1034Raw)} dataKey="y" stroke="#9a9a9a" strokeWidth={0.8} dot={false} type="linear" isAnimationActive={false} />
          <Line data={rows(fe1034)} dataKey="y" stroke="#2e2e2e" strokeWidth={0.9} dot={false} type="linear" isAnimationActive={false} />
          <Line data={rows(fe1034Smooth)} dataKey="y" stroke="#d8322a" strokeWidth={1} dot={false} type="monotone" isAnimationActive={false} />
        </LineChart>
      </div>

      {/* Inset of panel 3 */}
      <div style={{ position: "absolute", left: 1020, top: 60 }}>
        <LineChart width={160} height={135} margin={{ top: 6, right: 18, bottom: 17, left: 25 }}>
          {frame({
            xDomain: [5470, 7450],
            yDomain: [0, 1],
            xTicks: insetXTicks,
            yTicks: insetYTicks,
            color: "#666",
            lw: 1,
            x: {
              every: 1000, major: 5, minor: 2.5, color: "#666", dy: 14,
              font: { family: SERIF, size: 10, fill: "#444" },
              label: (v) => String(v),
            },
            y: { every: 1, major: 5, minor: 3, color: "#666" },
          })}
          <ReferenceLine x={6300} stroke="#333" strokeWidth={1} />
          <Line data={rows(insetObs)} dataKey="y" stroke="#333" strokeWidth={0.9} dot={false} type="linear" isAnimationActive={false} />
          <Line data={rows(insetSmooth)} dataKey="y" stroke="#d8322a" strokeWidth={1} dot={false} type="monotone" isAnimationActive={false} />
        </LineChart>
      </div>

      {/* Text overlay */}
      <svg width={1183} height={490} style={{ position: "absolute", left: 0, top: 0, pointerEvents: "none" }}>
        <rect x={4} y={32} width={433} height={450} fill="none" stroke="#e6e6e6" strokeWidth={1} />
        <g fontFamily={TITLE} fontSize={31} fill="#000" textAnchor="middle">
          <text x={230} y={31}>Core-collapse</text>
          <text x={676} y={31}>SN to SNR transition</text>
          <text x={1020} y={31} fontSize={30}>Thermonuclear</text>
        </g>

        {/* panel 1 */}
        <text x={155} y={56} fontFamily={MONO} fontSize={9.5} fill="#222" textLength={78} lengthAdjust="spacingAndGlyphs">[O I] 6300, 6363</text>
        <g fontFamily={TITLE} fontSize={20} fill="#000" textAnchor="end">
          <text x={408} y={76}>SN 2007gr</text>
          <text x={408} y={100}>390 d</text>
        </g>
        <line x1={310} y1={129} x2={333} y2={129} stroke="#111" strokeWidth={1.4} />
        <text x={338} y={134} fontFamily={TITLE} fontSize={17} fill="#000">observed</text>
        <line x1={310} y1={152} x2={333} y2={152} stroke="#d92b2b" strokeWidth={1.4} />
        <text x={338} y={157} fontFamily={TITLE} fontSize={17} fill="#e0201c">model</text>
        <text transform="translate(20,240) rotate(-90)" textAnchor="middle" fontFamily={MONO} fontSize={11.5} fill="#222" textLength={154} lengthAdjust="spacingAndGlyphs">
          Flux [10⁻¹⁸ erg cm⁻² s⁻¹ Å⁻¹]
        </text>
        <text x={233} y={470} textAnchor="middle" fontFamily={MONO} fontSize={12} fill="#222" textLength={107} lengthAdjust="spacingAndGlyphs">
          Rest Wavelength [Å]
        </text>

        {/* panel 2 */}
        <text x={730} y={89} fontFamily={SANS} fontSize={21} fill="#111">SN 2004et</text>
        <text x={733} y={162} fontFamily={SANS} fontSize={16} fill={BLUE}>t = 464 d</text>
        <text x={733} y={183} fontFamily={SANS} fontSize={16} fontWeight="bold" fill={BLUE}>
          <tspan fontSize={10} dy={-7}>56</tspan>
          <tspan dy={7}>Co heating</tspan>
        </text>
        <text x={733} y={298} fontFamily={SANS} fontSize={16} fill={RED2}>t = 823 d</text>
        <text x={733} y={318} fontFamily={SANS} fontSize={16} fontWeight="bold" fill={RED2}>reverse shock</text>
        <text x={733} y={337} fontFamily={SANS} fontSize={16} fontWeight="bold" fill={RED2}>interaction</text>
        <text transform="translate(474,243) rotate(-90)" textAnchor="middle" fontFamily={SANS} fontSize={15} fill="#111">
          <tspan>F</tspan>
          <tspan fontSize={10} dy={4}>λ</tspan>
          <tspan dy={-4}> [erg s</tspan>
          <tspan fontSize={10} dy={-6}>-1</tspan>
          <tspan dy={6}> cm</tspan>
          <tspan fontSize={10} dy={-6}>-2</tspan>
          <tspan dy={6}> Å</tspan>
          <tspan fontSize={10} dy={-6}>-1</tspan>
          <tspan dy={6}> 10</tspan>
          <tspan fontSize={10} dy={-6}>-15</tspan>
          <tspan dy={6}>]</tspan>
        </text>
        <text x={680} y={482} textAnchor="middle" fontFamily={SANS} fontSize={15.5} fill="#111">rest wavelength [Å]</text>

        {/* panel 3 */}
        <text x={907} y={90} fontFamily={TITLE} fontSize={20} fill="#000">SN 2011fe</text>
        <g fontFamily={SERIF} fontSize={10} fill="#555" textAnchor="middle">
          <text x={953} y={122}>[FeIII]</text>
          <text x={980} y={184}>[FeII]/</text>
          <text x={980} y={196}>[FeIII]</text>
          <text x={933} y={219}>[FeII]</text>
          <text x={1068} y={240}>[FeII]/</text>
          <text x={1068} y={252}>[NiII]</text>
          <text x={1127} y={257}>[FeII]/</text>
          <text x={1127} y={269}>CaII</text>
          <text x={1165} y={262}>[FeII]</text>
          <text x={1008} y={277}>[CoIII]</text>
          <text x={980} y={301}>[FeII]</text>
          <text x={939} y={321}>[FeII]</text>
          <text x={1031} y={367}>FeI/[FeI]/</text>
          <text x={1031} y={379}>[OI]?</text>
          <text x={1073} y={367}>[FeII]/</text>
          <text x={1073} y={379}>[NiII]</text>
          <text x={1127} y={367}>[FeII]/</text>
          <text x={1127} y={379}>CaII?</text>
        </g>
        <g fontFamily={SERIF} fontSize={10.5} fill="#555" textAnchor="end">
          <text x={1172} y={223}>331d</text>
          <text x={1172} y={234}>GTC+OSIRIS</text>
          <text x={1172} y={332}>1034d</text>
          <text x={1172} y={343}>LBT+MODS1</text>
        </g>
        <text transform="translate(884,248) rotate(-90)" textAnchor="middle" fontFamily={SERIF} fontSize={11} fill="#555">
          <tspan>Scaled F</tspan>
          <tspan fontSize={7} dy={3}>λ</tspan>
          <tspan dy={-3}> + const.</tspan>
        </text>
        <text x={1040} y={468} textAnchor="middle" fontFamily={SERIF} fontSize={11.5} fill="#555">Rest wavelength [Å]</text>

        {/* inset */}
        <g fontFamily={SERIF} fontSize={10} fill="#d8322a" textAnchor="middle">
          <text x={1103} y={83}>FeI/[FeI]/</text>
          <text x={1103} y={94}>[OI]?</text>
        </g>
        <text x={1129} y={79} fontFamily={SERIF} fontSize={10} fill="#444">1034d</text>
        <text transform="translate(1036,127) rotate(-90)" textAnchor="middle" fontFamily={SERIF} fontSize={10} fill="#555">
          <tspan>Scaled F</tspan>
          <tspan fontSize={7} dy={3}>λ</tspan>
        </text>
      </svg>
    </div>
  );
}
